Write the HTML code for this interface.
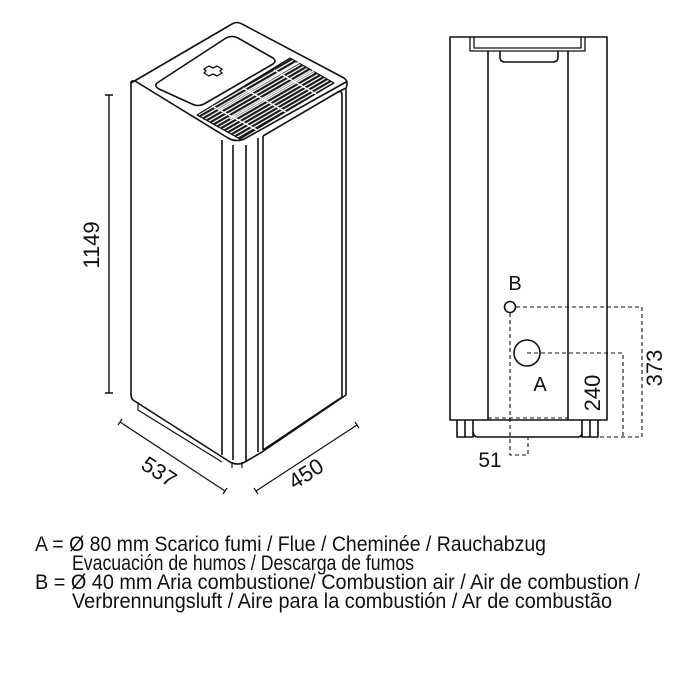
<!DOCTYPE html>
<html><head><meta charset="utf-8"><style>
html,body{margin:0;padding:0;background:#fff;}
svg{display:block}
</style></head><body>
<svg width="700" height="700" viewBox="0 0 700 700" xmlns="http://www.w3.org/2000/svg">
<defs>
<pattern id="gr" width="3.5" height="3.5" patternUnits="userSpaceOnUse" patternTransform="rotate(-30)">
<rect width="3.5" height="3.5" fill="#fff"/><rect width="3.5" height="2.2" fill="#1a1a1a"/>
</pattern>
</defs>
<g fill="none" stroke="#111" stroke-width="1.6" stroke-linejoin="round">
<path d="M131,83 L232,24 Q237,21 242,24 L344,78 Q349,82 346,88 L346,395 L262,452 L245,462 Q238,466 230,462 L133,400 Q131,398 131,394 Z" fill="#fff"/>
<path d="M131,83 Q131,80 135,81 L228,138 Q237,143 246,138 L346,82"/>
<path d="M157,83 L226,38 Q232,35 238,38 L273,58 Q277,61 273,64 L204,104 Q198,107 192,104 L159,89 Q154,86 157,83 Z"/>
<path d="M204,69 l5,-3 l4,2 l4,-2 l5,3 l-2,2 l2,2 l-5,3 l-4,-2 l-4,2 l-5,-3 l2,-2 z" stroke-width="1.3"/>
<path d="M197,115 L290,58 L334,83 L240,139 Z" fill="url(#gr)" stroke-width="1.2"/>
<path d="M212,106 L257,130 M243,88 L286,112 M274,70 L316,94 M218,110 L305,59 M230,119 L320,67" stroke="#fff" stroke-width="1.5"/>
<path d="M222,140 L222,455 M233,145 L233,460 M246,145 L246,462 M258,138 L258,452 M263,136 L263,450"/>
<path d="M263,136 L338,92 Q342,90 342,95 L342,397 L263,450" />
<path d="M338,92 L346,88"/>
<path d="M138,402 L138,410 L222,462" stroke-width="1.2"/>
<path d="M232,462 L232,468 M242,462 L242,468" stroke-width="1.2"/>
<path d="M109,95 L109,393 M105,95 L113,95 M105,393 L113,393" stroke-width="1.4"/>
<path d="M120,422 L225,491 M118,425 L122,419 M223,494 L227,488" stroke-width="1.2"/>
<path d="M256,491 L357,425 M254,488 L258,494 M355,422 L359,428" stroke-width="1.2"/>

<rect x="450" y="37" width="157" height="383" fill="#fff"/>
<path d="M488,51 L488,420 M568,51 L568,420"/>
<path d="M470,37 L470,51 L585,51 L585,37 M474,37 L474,48 L581,48 L581,37" stroke-width="1.3"/>
<path d="M500,51 L500,57 Q500,62 505,62 L553,62 Q558,62 558,57 L558,51"/>
<path d="M457,420 L457,437 L473,437 L473,420 M465,420 L465,437 M582,420 L582,437 L598,437 L598,420 M590,420 L590,437 M473,432 Q474,437 478,437 L578,437 Q582,437 582,432"/>
<circle cx="510" cy="307" r="5.5"/>
<circle cx="527" cy="353" r="13"/>
<g stroke-width="1.1" stroke-dasharray="4,3">
<path d="M516,307 L642,307 L642,437 L598,437"/>
<path d="M527,353 L623,353 L623,437"/>
<path d="M488,418 L568,418"/>
<path d="M510,313 L510,455 L528,455 L528,437"/>
</g>
</g>
<g font-family="'Liberation Sans', sans-serif" fill="#111">
<text x="0" y="0" font-size="22" transform="translate(99,245) rotate(-90)" text-anchor="middle">1149</text>
<text x="0" y="0" font-size="22" transform="translate(155,478) rotate(33)" text-anchor="middle">537</text>
<text x="0" y="0" font-size="22" transform="translate(310,480) rotate(-33)" text-anchor="middle">450</text>
<text x="515" y="290" font-size="20" text-anchor="middle">B</text>
<text x="540" y="391" font-size="20" text-anchor="middle">A</text>
<text x="0" y="0" font-size="22" transform="translate(600,393) rotate(-90)" text-anchor="middle">240</text>
<text x="0" y="0" font-size="22" transform="translate(662,368) rotate(-90)" text-anchor="middle">373</text>
<text x="490" y="467" font-size="21" text-anchor="middle">51</text>
<g font-size="21">
<text x="35" y="551" textLength="511" lengthAdjust="spacingAndGlyphs">A = Ø 80 mm  Scarico fumi / Flue / Cheminée / Rauchabzug</text>
<text x="72" y="570" textLength="342" lengthAdjust="spacingAndGlyphs">Evacuación de humos / Descarga de fumos</text>
<text x="35" y="589" textLength="605" lengthAdjust="spacingAndGlyphs">B = Ø 40 mm  Aria combustione/ Combustion air / Air de combustion /</text>
<text x="72" y="608" textLength="540" lengthAdjust="spacingAndGlyphs">Verbrennungsluft / Aire para la combustión / Ar de combustão</text>
</g>
</g>
</svg>
</body></html>
